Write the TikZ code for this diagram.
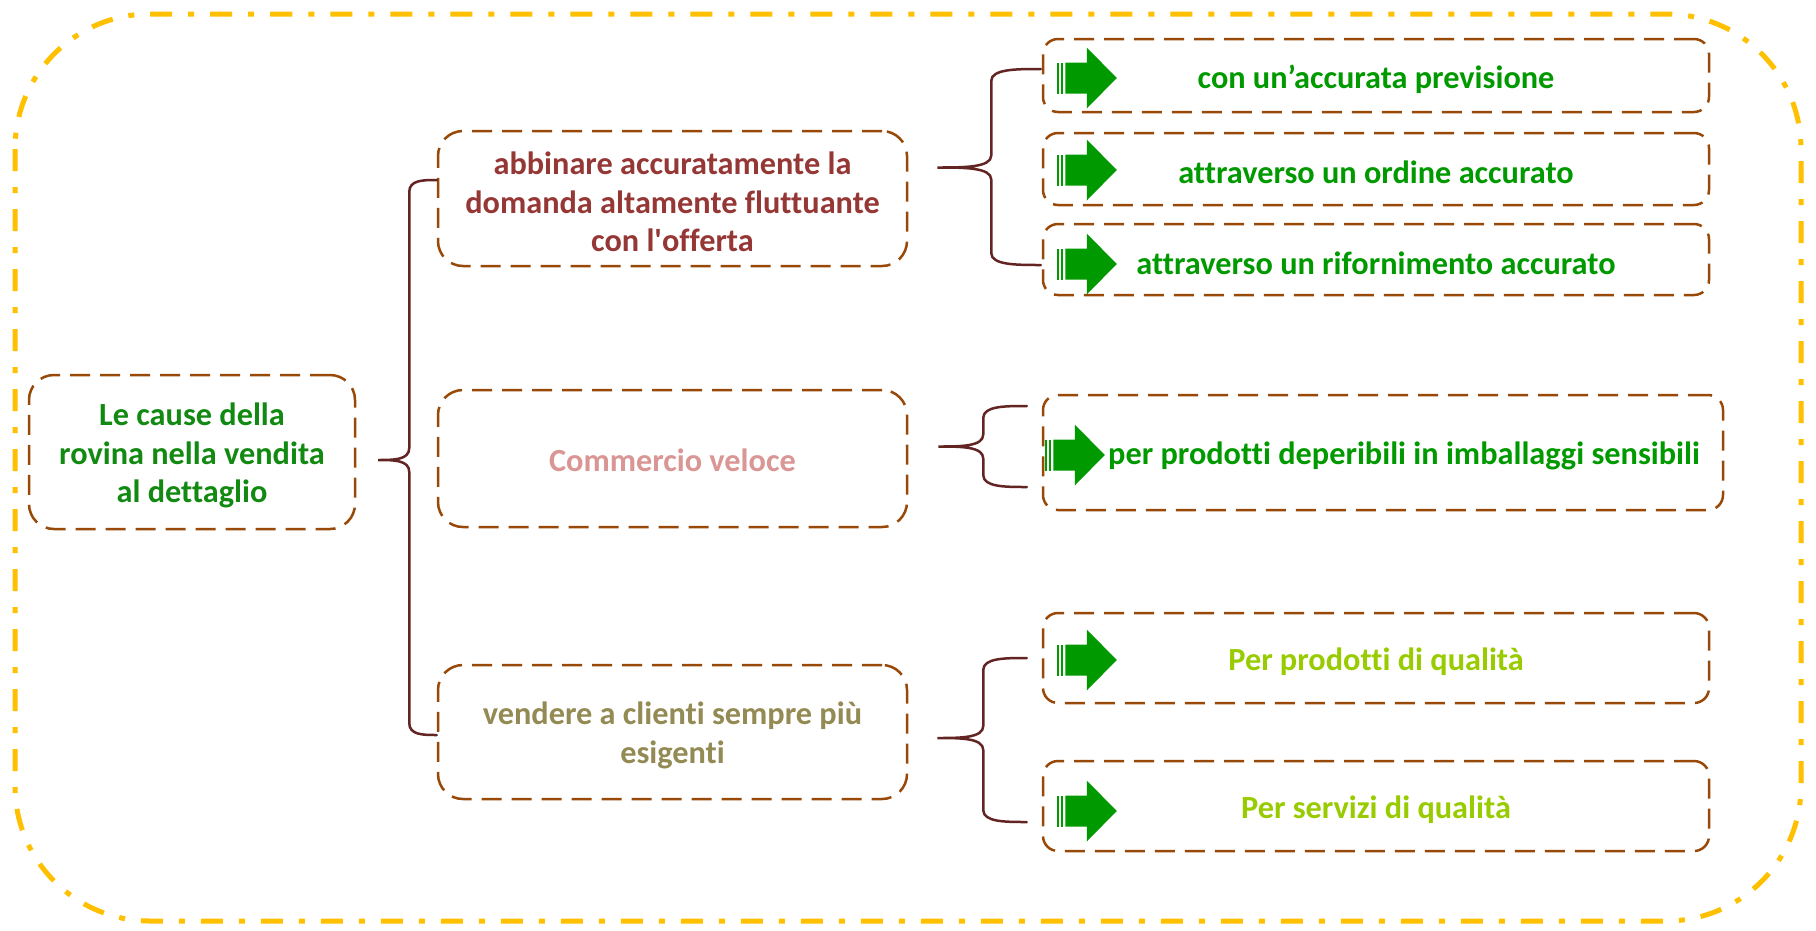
\documentclass[tikz,border=0pt]{standalone}
\usepackage{fontspec}
\setmainfont{Carlito}[Ligatures=NoCommon]
\usetikzlibrary{calc}

\definecolor{frameyellow}{HTML}{FFC000}
\definecolor{boxbrown}{HTML}{984807}
\definecolor{bracered}{HTML}{632523}
\definecolor{rootgreen}{HTML}{128A12}
\definecolor{leafgreen}{HTML}{009A00}
\definecolor{arrowgreen}{HTML}{009900}
\definecolor{lime}{HTML}{99CC00}
\definecolor{wine}{HTML}{953735}
\definecolor{rosepink}{HTML}{D99694}
\definecolor{olive}{HTML}{948A54}

\newcommand\labelfont{\fontsize{32.3}{38.5}\selectfont\bfseries}

% curly brace: tip, top arm end, bottom arm end, spine offset from the tip
\newcommand\curlybrace[4]{%
  \draw[bracestyle] let \p1=(#1), \p2=(#2), \p3=(#3),
      \n1={\x1+#4}, \n2={(\x2+\n1)/2}, \n3={(\x3+\n1)/2}, \n4={(\x1+\n1)/2} in
    (\p2) .. controls (\n2,\y2) and (\n1,\y2) .. (\n1,{\y2-12pt})
    -- (\n1,{\y1+12pt}) .. controls (\n1,\y1) and (\n4,\y1) .. (\p1)
    .. controls (\n4,\y1) and (\n1,\y1) .. (\n1,{\y1-12pt})
    -- (\n1,{\y3+12pt}) .. controls (\n1,\y3) and (\n3,\y3) .. (\p3);}

\tikzset{
  boxbase/.style={draw=boxbrown, line width=2.5pt, dash pattern=on 20pt off 10pt,
    inner sep=0pt},
  rootbox/.style={boxbase, rounded corners=25pt},
  midbox/.style={boxbase, rounded corners=25pt, minimum width=469pt},
  leafbox/.style={boxbase, rounded corners=15pt, minimum width=666pt},
  boxtext/.style={align=center, inner sep=0pt, font=\labelfont},
  bracestyle/.style={draw=bracered, line width=2.5pt, line cap=round},
  greenarrow/.pic={
    \fill[arrowgreen] (0,-15.5) rectangle (2,15.5);
    \fill[arrowgreen] (4,-15.5) rectangle (6,15.5);
    \fill[arrowgreen] (8.5,-15.5) -- (30,-15.5) -- (30,-30.5) -- (60,0)
      -- (30,30.5) -- (30,15.5) -- (8.5,15.5) -- cycle;
  }
}

\begin{document}
\begin{tikzpicture}[x=1pt,y=-1pt]
\useasboundingbox (0,0) rectangle (1816,930);
\fill[white] (0,0) rectangle (1816,930);

% outer frame
\draw[frameyellow, line width=5pt, dash pattern=on 22pt off 16pt on 6pt off 16pt,
  rounded corners=135pt] (15,14) rectangle (1801,921);

% root
\node[rootbox, minimum width=326pt, minimum height=154pt] (root) at (192,452) {};
\node[boxtext, text=rootgreen] (roott) at ([yshift=-3.5pt]root.center)
  {Le cause della\\rovina nella vendita\\al dettaglio};

% second level
\node[midbox, minimum height=135pt] (b1) at (672.5,198.5) {};
\node[boxtext, text=wine] (b1t) at ([yshift=-3.5pt]b1.center)
  {abbinare accuratamente la\\domanda altamente fluttuante\\con l\textquotesingle offerta};
\node[midbox, minimum height=137pt] (b2) at (672.5,458.5) {};
\node[boxtext, text=rosepink] (b2t) at ([yshift=-1.5pt]b2.center)
  {Commercio veloce};
\node[midbox, minimum height=134pt] (b3) at (672.5,732) {};
\node[boxtext, text=olive] (b3t) at ([yshift=-3.5pt]b3.center)
  {vendere a clienti sempre più\\esigenti};

% third level
\node[leafbox, minimum height=73pt] (c1) at (1376,75.5) {};
\node[boxtext, text=leafgreen] (c1t) at ([yshift=-3.5pt]c1.center)
  {con un’accurata previsione};
\node[leafbox, minimum height=72pt] (c2) at (1376,169) {};
\node[boxtext, text=leafgreen] (c2t) at ([yshift=-3.5pt]c2.center)
  {attraverso un ordine accurato};
\node[leafbox, minimum height=71pt] (c3) at (1376,259.5) {};
\node[boxtext, text=leafgreen] (c3t) at ([yshift=-3.5pt]c3.center)
  {attraverso un rifornimento accurato};
\node[leafbox, minimum width=680pt, minimum height=115pt] (c4) at (1383,452.5) {};
\node[boxtext, text=leafgreen] (c4t) at ([xshift=21pt,yshift=-3.5pt]c4.center)
  {per prodotti deperibili in imballaggi sensibili};
\node[leafbox, minimum height=90pt] (c5) at (1376,658) {};
\node[boxtext, text=lime] (c5t) at ([yshift=-3.5pt]c5.center)
  {Per prodotti di qualità};
\node[leafbox, minimum height=90pt] (c6) at (1376,806) {};
\node[boxtext, text=lime] (c6t) at ([yshift=-3.5pt]c6.center)
  {Per servizi di qualità};

% arrow marks in the leaves
\pic at ([xshift=15pt,yshift=-2.5pt]c1.west) {greenarrow};
\pic at ([xshift=15pt,yshift=-1pt]c2.west) {greenarrow};
\pic at ([xshift=15pt,yshift=-4.5pt]c3.west) {greenarrow};
\pic at ([xshift=3pt,yshift=-2.5pt]c4.west) {greenarrow};
\pic at ([xshift=15pt,yshift=-2pt]c5.west) {greenarrow};
\pic at ([xshift=15pt,yshift=-5pt]c6.west) {greenarrow};

% brace anchors
\coordinate (t0) at ([xshift=22pt,yshift=-8pt]root.east);
\coordinate (t0a) at (b1.west |- 0,180);
\coordinate (t0b) at (b3.west |- 0,735);

\coordinate (t1) at ([xshift=29pt,yshift=31pt]b1.east);
\coordinate (t1a) at ([xshift=-1pt]c1.west |- 0,69);
\coordinate (t1b) at ([xshift=-1pt]c3.west |- 0,265);

\coordinate (t2) at ([xshift=30pt,yshift=12pt]b2.east);
\coordinate (t2a) at ([xshift=-15pt]c4.west |- 0,406);
\coordinate (t2b) at ([xshift=-15pt]c4.west |- 0,487);

\coordinate (t3) at ([xshift=29pt,yshift=-6pt]b3.east);
\coordinate (t3a) at ([xshift=-15pt]c5.west |- 0,658);
\coordinate (t3b) at ([xshift=-15pt]c6.west |- 0,822);

\curlybrace{t0}{t0a}{t0b}{31pt}
\curlybrace{t1}{t1a}{t1b}{54pt}
\curlybrace{t2}{t2a}{t2b}{45pt}
\curlybrace{t3}{t3a}{t3b}{46pt}
\end{tikzpicture}
\end{document}
